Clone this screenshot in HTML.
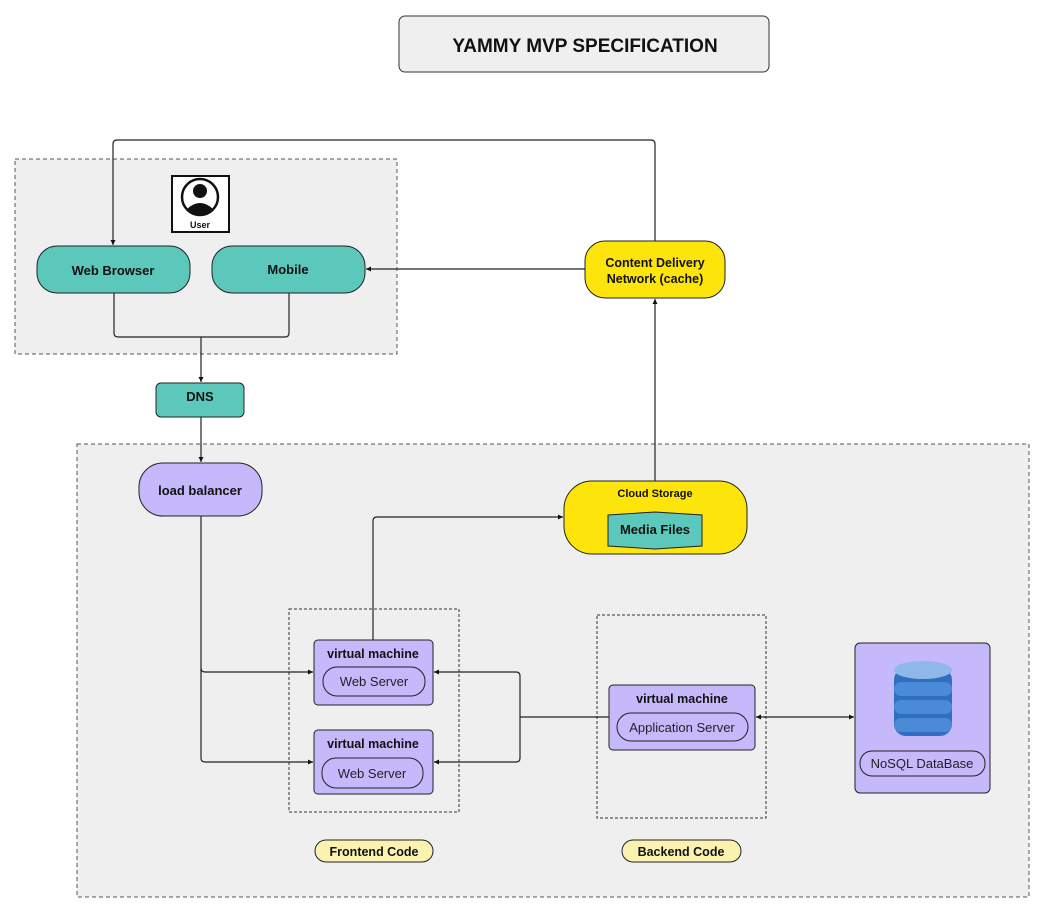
<!DOCTYPE html>
<html><head><meta charset="utf-8"><style>
html,body{margin:0;padding:0;background:#fff;width:1050px;height:912px;overflow:hidden}
svg{display:block}
text{font-family:"Liberation Sans",sans-serif}
.b{font-weight:bold;fill:#111}
</style></head><body>
<svg width="1050" height="912" viewBox="0 0 1050 912" xmlns="http://www.w3.org/2000/svg">
<defs>
<marker id="a" markerWidth="6" markerHeight="6" refX="5" refY="3" orient="auto" markerUnits="userSpaceOnUse"><path d="M0,0.5 L5,3 L0,5.5z" fill="#111"/></marker>
<marker id="s" markerWidth="6" markerHeight="6" refX="1" refY="3" orient="auto" markerUnits="userSpaceOnUse"><path d="M6,0.5 L1,3 L6,5.5z" fill="#111"/></marker>
</defs>
<!-- title -->
<rect x="399" y="16" width="370" height="56" rx="6" fill="#efefef" stroke="#333" stroke-width="1"/>
<text x="585" y="52" text-anchor="middle" class="b" font-size="19">YAMMY MVP SPECIFICATION</text>
<!-- containers -->
<rect x="15" y="159" width="382" height="195" fill="#efefef" stroke="#555" stroke-dasharray="4,3"/>
<rect x="77" y="444" width="952" height="453" fill="#efefef" stroke="#555" stroke-dasharray="4,3"/>
<rect x="289" y="609" width="170" height="203" fill="none" stroke="#333" stroke-dasharray="3,2"/>
<rect x="597" y="615" width="169" height="203" fill="none" stroke="#333" stroke-dasharray="3,2"/>
<!-- connectors -->
<g fill="none" stroke="#222" stroke-width="1.2">
<path d="M655,241 V144 Q655,140 651,140 H117 Q113,140 113,144 V245" marker-end="url(#a)"/>
<path d="M585,269 H366" marker-end="url(#a)"/>
<path d="M655,481 V299" marker-end="url(#a)"/>
<path d="M114,293 V333 Q114,337 118,337 H285 Q289,337 289,333 V293"/>
<path d="M201,337 V382" marker-end="url(#a)"/>
<path d="M201,417 V462" marker-end="url(#a)"/>
<path d="M201,516 V668 Q201,672 205,672 H313" marker-end="url(#a)"/>
<path d="M201,668 V758 Q201,762 205,762 H313" marker-end="url(#a)"/>
<path d="M373,640 V521 Q373,517 377,517 H563" marker-end="url(#a)"/>
<path d="M609,717 H520"/>
<path d="M520,717 V676 Q520,672 516,672 H434" marker-end="url(#a)"/>
<path d="M520,717 V758 Q520,762 516,762 H434" marker-end="url(#a)"/>
<path d="M756,717 H854" marker-start="url(#s)" marker-end="url(#a)"/>
</g>
<!-- user icon -->
<rect x="172" y="176" width="57" height="56" fill="#fff" stroke="#111" stroke-width="2"/>
<circle cx="200" cy="197" r="18" fill="#fff" stroke="#111" stroke-width="2.5"/>
<circle cx="200" cy="191" r="7" fill="#111"/>
<path d="M187,209 Q200,197 213,209 Q200,219 187,209z" fill="#111"/>
<text x="200" y="228" text-anchor="middle" class="b" font-size="9">User</text>
<!-- teal nodes -->
<rect x="37" y="246" width="153" height="47" rx="20" fill="#5bc8bb" stroke="#222"/>
<text x="113" y="275" text-anchor="middle" class="b" font-size="13">Web Browser</text>
<rect x="212" y="246" width="153" height="47" rx="20" fill="#5bc8bb" stroke="#222"/>
<text x="288" y="274" text-anchor="middle" class="b" font-size="13">Mobile</text>
<rect x="156" y="383" width="88" height="34" rx="5" fill="#5bc8bb" stroke="#222"/>
<text x="200" y="401" text-anchor="middle" class="b" font-size="13">DNS</text>
<!-- CDN -->
<rect x="585" y="241" width="140" height="57" rx="20" fill="#fde50b" stroke="#222"/>
<text x="655" y="267" text-anchor="middle" class="b" font-size="12.5">Content Delivery</text>
<text x="655" y="283" text-anchor="middle" class="b" font-size="12.5">Network (cache)</text>
<!-- LB -->
<rect x="139" y="463" width="123" height="53" rx="24" fill="#c5b8fb" stroke="#222"/>
<text x="200" y="495" text-anchor="middle" class="b" font-size="13">load balancer</text>
<!-- cloud storage -->
<rect x="564" y="481" width="183" height="73" rx="28" fill="#fde50b" stroke="#222"/>
<text x="655" y="497" text-anchor="middle" class="b" font-size="11">Cloud Storage</text>
<path d="M608,515 L655,512 L702,515 V546 L655,549 L608,546z" fill="#5bc8bb" stroke="#222"/>
<text x="655" y="534" text-anchor="middle" class="b" font-size="13">Media Files</text>
<!-- VMs -->
<rect x="314" y="640" width="119" height="65" rx="4" fill="#c5b8fb" stroke="#222"/>
<text x="373" y="658" text-anchor="middle" class="b" font-size="12.5">virtual machine</text>
<rect x="323" y="667" width="102" height="29" rx="14" fill="none" stroke="#222"/>
<text x="374" y="686" text-anchor="middle" font-size="13" fill="#222">Web Server</text>
<rect x="314" y="730" width="119" height="64" rx="4" fill="#c5b8fb" stroke="#222"/>
<text x="373" y="748" text-anchor="middle" class="b" font-size="12.5">virtual machine</text>
<rect x="322" y="758" width="101" height="30" rx="14" fill="none" stroke="#222"/>
<text x="372" y="778" text-anchor="middle" font-size="13" fill="#222">Web Server</text>
<rect x="609" y="685" width="146" height="65" rx="4" fill="#c5b8fb" stroke="#222"/>
<text x="682" y="703" text-anchor="middle" class="b" font-size="12.5">virtual machine</text>
<rect x="617" y="713" width="131" height="28" rx="14" fill="none" stroke="#222"/>
<text x="682" y="732" text-anchor="middle" font-size="13" fill="#222">Application Server</text>
<!-- NoSQL -->
<rect x="855" y="643" width="135" height="150" rx="5" fill="#c5b8fb" stroke="#222"/>
<g>
<rect x="894" y="668" width="58" height="68" rx="12" fill="#2f6fc0"/>
<ellipse cx="923" cy="670" rx="29" ry="9" fill="#8fb8e8"/>
<rect x="894" y="682" width="58" height="14" rx="7" fill="#4a8ad6"/>
<rect x="894" y="700" width="58" height="14" rx="7" fill="#4a8ad6"/>
<rect x="894" y="718" width="58" height="14" rx="7" fill="#4a8ad6"/>
</g>
<rect x="860" y="751" width="125" height="25" rx="12" fill="none" stroke="#222"/>
<text x="922" y="768" text-anchor="middle" font-size="13" fill="#222">NoSQL DataBase</text>
<!-- labels -->
<rect x="315" y="840" width="118" height="22" rx="11" fill="#fbf2b0" stroke="#222"/>
<text x="374" y="856" text-anchor="middle" class="b" font-size="12.5">Frontend Code</text>
<rect x="622" y="840" width="119" height="22" rx="11" fill="#fbf2b0" stroke="#222"/>
<text x="681" y="856" text-anchor="middle" class="b" font-size="12.5">Backend Code</text>
</svg>
</body></html>
